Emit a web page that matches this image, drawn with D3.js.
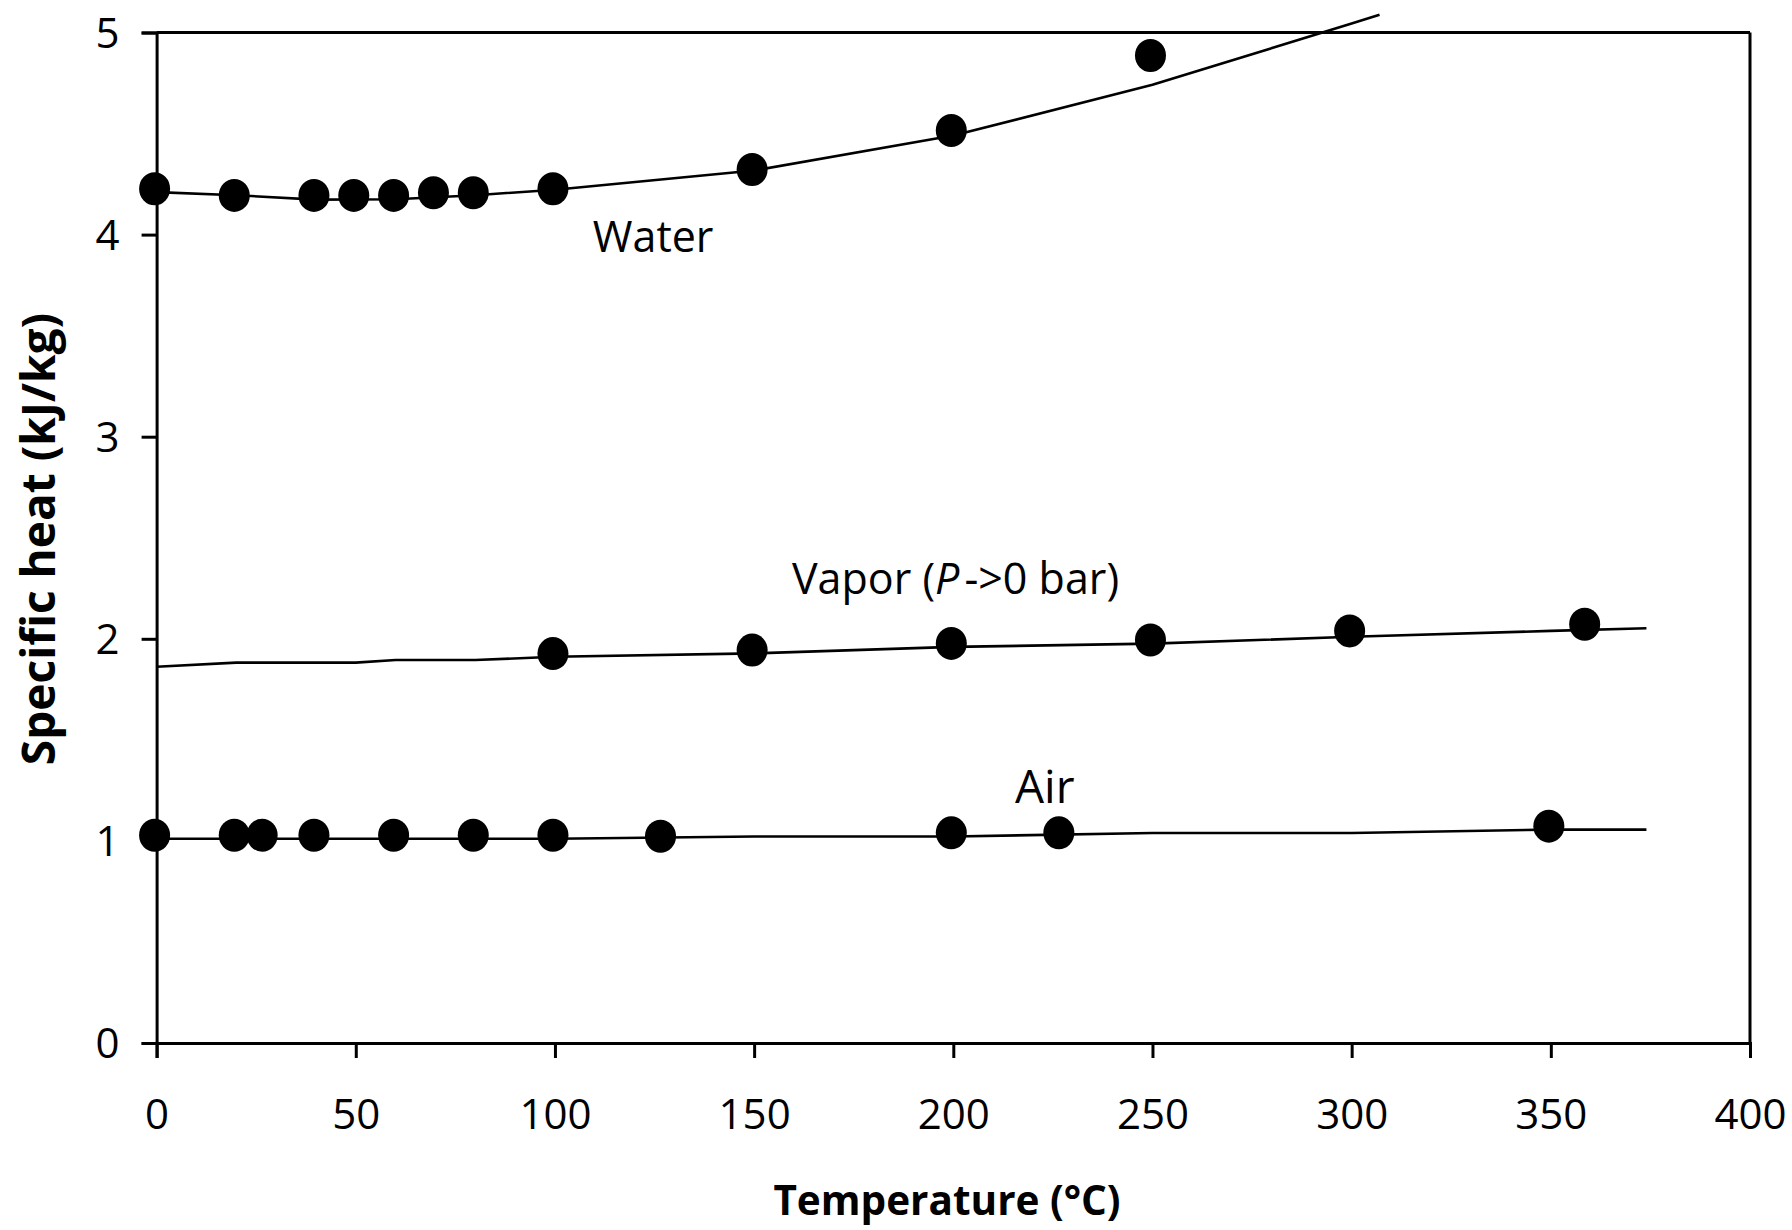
<!DOCTYPE html>
<html>
<head>
<meta charset="utf-8">
<script src="https://cdn.jsdelivr.net/npm/d3@7/dist/d3.min.js"></script>
<style>
  html, body { margin: 0; padding: 0; background: #ffffff; }
  svg { display: block; }
  text { font-family: "Comic Sans MS", "Open Sans", sans-serif; fill: #000; }
</style>
</head>
<body>
<svg id="chart" width="1792" height="1230"></svg>
<script>
// ---- Data ----
const xTicks = [0, 50, 100, 150, 200, 250, 300, 350, 400];
const yTicks = [0, 1, 2, 3, 4, 5];

// Water: measured points and fitted curve
const waterT   = [0, 20, 40, 50, 60, 70, 80, 100, 150, 200, 250];
const waterCp  = [4.227, 4.194, 4.194, 4.194, 4.194, 4.207, 4.207, 4.227, 4.322, 4.515, 4.886];
const waterFitT  = [0, 20, 40, 60, 80, 100, 150, 200, 250, 300, 307];
const waterFitCp = [4.21, 4.195, 4.173, 4.175, 4.195, 4.222, 4.317, 4.49, 4.741, 5.044, 5.088];

// Vapor (P -> 0 bar)
const vaporT   = [100, 150, 200, 250, 300, 359];
const vaporCp  = [1.927, 1.944, 1.977, 1.994, 2.039, 2.072];
const vaporFitT  = [0, 20, 50, 60, 80, 100, 150, 200, 250, 300, 350, 374];
const vaporFitCp = [1.862, 1.882, 1.882, 1.895, 1.895, 1.911, 1.928, 1.96, 1.976, 2.01, 2.039, 2.052];

// Air
const airT   = [0, 20, 27, 40, 60, 80, 100, 127, 200, 227, 350];
const airCp  = [1.028, 1.028, 1.028, 1.028, 1.028, 1.028, 1.028, 1.023, 1.04, 1.04, 1.073];
const airFitT  = [0, 100, 150, 200, 250, 300, 350, 374];
const airFitCp = [1.011, 1.011, 1.022, 1.022, 1.039, 1.039, 1.056, 1.056];

const seriesLabels = [
  { name: "Water", t: 109.5, cp: 3.915 },
  { name: "Vapor", t: 159.5, cp: 2.22 },
  { name: "Air",   t: 215.5, cp: 1.19 }
];

// ---- Layout ----
const pLeft = 156.6, pRight = 1750, pTop = 32.5, pBottom = 1043;
const svg = d3.select("#chart");

const x = d3.scaleLinear().domain([0, 400]).range([pLeft, pRight]);
const y = d3.scaleLinear().domain([0, 5]).range([pBottom, pTop]);

const zip = (a, b) => a.map((v, i) => [v, b[i]]);
const line = d3.line().x(d => x(d[0])).y(d => y(d[1]));

// Frame (top and right borders)
svg.append("line").attr("x1", pLeft).attr("x2", pRight).attr("y1", pTop).attr("y2", pTop)
  .attr("stroke", "#000").attr("stroke-width", 3);
svg.append("line").attr("x1", pRight).attr("x2", pRight).attr("y1", pTop).attr("y2", pBottom)
  .attr("stroke", "#000").attr("stroke-width", 3);

// Axes
const xAxis = d3.axisBottom(x).tickValues(xTicks).tickSize(15).tickPadding(41).tickFormat(d3.format("d"));
const yAxis = d3.axisLeft(y).tickValues(yTicks).tickSize(15).tickPadding(22).tickFormat(d3.format("d"));

const gx = svg.append("g").attr("transform", `translate(0,${pBottom})`).call(xAxis);
const gy = svg.append("g").attr("transform", `translate(${pLeft},0)`).call(yAxis);
[gx, gy].forEach(g => {
  g.select(".domain").attr("stroke", "#000").attr("stroke-width", 3);
  g.selectAll(".tick line").attr("stroke", "#000").attr("stroke-width", 3);
  g.selectAll(".tick text").attr("font-size", 42).attr("fill", "#000")
    .style("font-family", '"Comic Sans MS", "Open Sans", sans-serif');
});
gy.selectAll(".tick text").attr("dy", "0.35em");

// Fitted lines
[[waterFitT, waterFitCp], [vaporFitT, vaporFitCp], [airFitT, airFitCp]].forEach(([t, c]) => {
  svg.append("path").datum(zip(t, c)).attr("d", line)
    .attr("fill", "none").attr("stroke", "#000").attr("stroke-width", 2.6)
    .attr("stroke-linejoin", "round");
});

// Measured points
[[waterT, waterCp], [vaporT, vaporCp], [airT, airCp]].forEach(([t, c]) => {
  svg.append("g").selectAll("ellipse").data(zip(t, c)).join("ellipse")
    .attr("cx", d => x(d[0]) - 2).attr("cy", d => y(d[1]))
    .attr("rx", 15.5).attr("ry", 16.5).attr("fill", "#000");
});

// Series labels
const lab = svg.append("g").attr("font-size", 43);
lab.append("text").attr("x", x(seriesLabels[0].t)).attr("y", y(seriesLabels[0].cp)).text("Water");
const vt = lab.append("text").attr("x", x(seriesLabels[1].t)).attr("y", y(seriesLabels[1].cp));
vt.append("tspan").text("Vapor (");
vt.append("tspan").attr("font-style", "italic").text("P");
vt.append("tspan").attr("dx", 5).text("->0 bar)");
lab.append("text").attr("x", x(seriesLabels[2].t)).attr("y", y(seriesLabels[2].cp))
  .attr("font-size", 46).text("Air");

// Axis titles
svg.append("text").attr("x", 947).attr("y", 1215).attr("text-anchor", "middle")
  .attr("font-size", 40.5).attr("font-weight", "bold").text("Temperature (°C)");
svg.append("text").attr("transform", "translate(55,539) rotate(-90)").attr("text-anchor", "middle")
  .attr("font-size", 46).attr("font-weight", "bold").text("Specific heat (kJ/kg)");
</script>
</body>
</html>
